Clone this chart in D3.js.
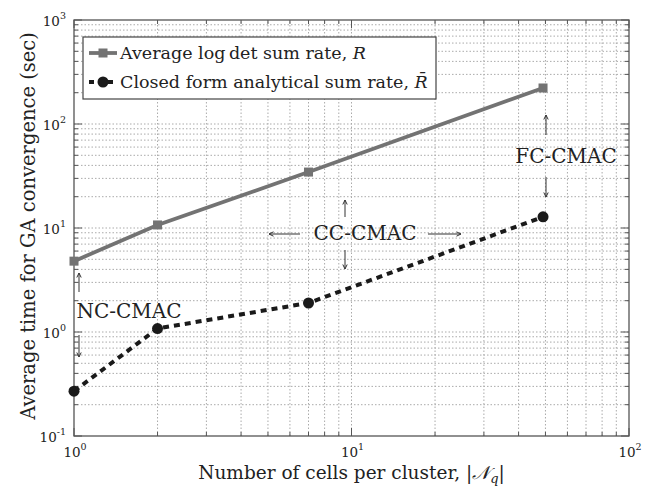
<!DOCTYPE html>
<html lang="en">
<head>
  <meta charset="UTF-8">
  <title>GA convergence time</title>
  <script src="https://d3js.org/d3.v7.min.js"></script>
  <style>
    body { margin: 0; background: #fff; }
  </style>
</head>
<body>
  <svg id="chart"></svg>

  <script>
    // Data
    const cells = [1, 2, 7, 49];
    const logdetTime = [4.8, 10.7, 34.5, 222];
    const closedTime = [0.27, 1.08, 1.9, 12.8];
    const xTickExp = [0, 1, 2];
    const yTickExp = [-1, 0, 1, 2, 3];

    const width = 654, height = 488;
    const margin = { top: 20, right: 25, bottom: 52, left: 74 };
    const FONT = "'DejaVu Serif', serif";

    const svg = d3.select("#chart")
      .attr("width", width)
      .attr("height", height)
      .attr("font-family", FONT)
      .style("font-family", FONT);

    const x = d3.scaleLog().domain([1, 100]).range([margin.left, width - margin.right]);
    const y = d3.scaleLog().domain([0.1, 1000]).range([height - margin.bottom, margin.top]);

    const x0 = x.range()[0], x1 = x.range()[1];
    const y0 = y.range()[0], y1 = y.range()[1];

    // all log ticks (major + minor)
    const xAll = [], yAll = [];
    for (let e = 0; e < 2; e++) for (let m = 1; m <= 9; m++) xAll.push(m * Math.pow(10, e));
    xAll.push(100);
    for (let e = -1; e < 3; e++) for (let m = 1; m <= 9; m++) yAll.push(m * Math.pow(10, e));
    yAll.push(1000);

    // grid
    const grid = svg.append("g")
      .attr("stroke", "#aaa")
      .attr("stroke-width", 1)
      .attr("stroke-dasharray", "1.5,2");
    grid.selectAll(".gx").data(xAll.slice(1, -1)).enter().append("line")
      .attr("x1", d => x(d)).attr("x2", d => x(d))
      .attr("y1", y0).attr("y2", y1);
    grid.selectAll(".gy").data(yAll.slice(1, -1)).enter().append("line")
      .attr("x1", x0).attr("x2", x1)
      .attr("y1", d => y(d)).attr("y2", d => y(d));

    // ticks on all four sides, pointing inward
    const isMajor = v => Math.abs(Math.log10(v) - Math.round(Math.log10(v))) < 1e-9;
    const ticks = svg.append("g").attr("stroke", "#555").attr("stroke-width", 1);
    xAll.forEach(v => {
      const len = isMajor(v) ? 8 : 4;
      ticks.append("line").attr("x1", x(v)).attr("x2", x(v)).attr("y1", y0).attr("y2", y0 - len);
      ticks.append("line").attr("x1", x(v)).attr("x2", x(v)).attr("y1", y1).attr("y2", y1 + len);
    });
    yAll.forEach(v => {
      const len = isMajor(v) ? 8 : 4;
      ticks.append("line").attr("y1", y(v)).attr("y2", y(v)).attr("x1", x0).attr("x2", x0 + len);
      ticks.append("line").attr("y1", y(v)).attr("y2", y(v)).attr("x1", x1).attr("x2", x1 - len);
    });

    // frame
    svg.append("rect")
      .attr("x", x0).attr("y", y1)
      .attr("width", x1 - x0).attr("height", y0 - y1)
      .attr("fill", "none").attr("stroke", "#555").attr("stroke-width", 1.3);

    // tick labels
    function powLabel(g, e) {
      g.append("tspan").text("10");
      g.append("tspan").attr("dy", -7).attr("font-size", 9.5).text(e);
    }
    xTickExp.forEach(e => {
      const t = svg.append("text")
        .attr("x", x(Math.pow(10, e)) + 1).attr("y", y0 + 21)
        .attr("text-anchor", "middle").attr("font-size", 13.5).attr("fill", "#222");
      powLabel(t, e);
    });
    yTickExp.forEach(e => {
      const t = svg.append("text")
        .attr("x", x0 - 8).attr("y", y(Math.pow(10, e)) + 6)
        .attr("text-anchor", "end").attr("font-size", 13.5).attr("fill", "#222");
      powLabel(t, e);
    });

    // axis titles
    const xt = svg.append("text")
      .attr("x", (x0 + x1) / 2).attr("y", 479)
      .attr("text-anchor", "middle").attr("font-size", 18.5).attr("fill", "#222");
    xt.append("tspan").text("Number of cells per cluster, |");
    xt.append("tspan").attr("font-style", "italic").text("𝒩");
    xt.append("tspan").attr("font-style", "italic").attr("font-size", 13).attr("dy", 4).text("q");
    xt.append("tspan").attr("dy", -4).text("|");

    svg.append("text")
      .attr("transform", `translate(35,${(y0 + y1) / 2 - 2}) rotate(-90)`)
      .attr("text-anchor", "middle").attr("font-size", 19.5).attr("fill", "#222")
      .text("Average time for GA convergence (sec)");

    // series
    const pts = (vals) => cells.map((c, i) => [c, vals[i]]);
    const line = d3.line().x(d => x(d[0])).y(d => y(d[1]));

    svg.append("path")
      .datum(pts(logdetTime))
      .attr("d", line)
      .attr("fill", "none").attr("stroke", "#737373").attr("stroke-width", 3.8);
    svg.selectAll(".sq").data(pts(logdetTime)).enter().append("rect")
      .attr("x", d => x(d[0]) - 4.5).attr("y", d => y(d[1]) - 4.5)
      .attr("width", 9).attr("height", 9).attr("fill", "#737373");

    svg.append("path")
      .datum(pts(closedTime))
      .attr("d", line)
      .attr("fill", "none").attr("stroke", "#1a1a1a").attr("stroke-width", 4)
      .attr("stroke-dasharray", "6,5");
    svg.selectAll(".ci").data(pts(closedTime)).enter().append("circle")
      .attr("cx", d => x(d[0])).attr("cy", d => y(d[1]))
      .attr("r", 5.5).attr("fill", "#1a1a1a");

    // legend
    const lg = svg.append("g");
    lg.append("rect")
      .attr("x", 83).attr("y", 37).attr("width", 353).attr("height", 62)
      .attr("fill", "#fff").attr("stroke", "#444").attr("stroke-width", 1.2);
    lg.append("line").attr("x1", 89).attr("x2", 117).attr("y1", 53).attr("y2", 53)
      .attr("stroke", "#737373").attr("stroke-width", 3.8);
    lg.append("rect").attr("x", 98.5).attr("y", 48.5).attr("width", 9).attr("height", 9).attr("fill", "#737373");
    lg.append("line").attr("x1", 89).attr("x2", 117).attr("y1", 82).attr("y2", 82)
      .attr("stroke", "#1a1a1a").attr("stroke-width", 4).attr("stroke-dasharray", "5,4.5");
    lg.append("circle").attr("cx", 103).attr("cy", 82).attr("r", 5.5).attr("fill", "#1a1a1a");

    const t1 = lg.append("text").attr("x", 120).attr("y", 59).attr("font-size", 17.5).attr("fill", "#222");
    t1.append("tspan").text("Average log\u2009det sum rate, ");
    t1.append("tspan").attr("font-style", "italic").text("R");
    const t2 = lg.append("text").attr("x", 120).attr("y", 88).attr("font-size", 17.5).attr("fill", "#222");
    t2.append("tspan").text("Closed form analytical sum rate, ");
    t2.append("tspan").attr("font-style", "italic").text("R\u0304");

    // annotations
    const ann = svg.append("g");
    function arrow(xa, ya, xb, yb) {
      ann.append("line").attr("x1", xa).attr("y1", ya).attr("x2", xb).attr("y2", yb)
        .attr("stroke", "#333").attr("stroke-width", 1);
      const ang = Math.atan2(yb - ya, xb - xa);
      const hl = 5, hw = 0.45;
      ann.append("path")
        .attr("d", `M${xb - hl * Math.cos(ang - hw)},${yb - hl * Math.sin(ang - hw)} L${xb},${yb} L${xb - hl * Math.cos(ang + hw)},${yb - hl * Math.sin(ang + hw)}`)
        .attr("fill", "none").attr("stroke", "#333").attr("stroke-width", 1);
    }
    function label(txt, cx, cy) {
      ann.append("text").attr("x", cx).attr("y", cy + 7)
        .attr("text-anchor", "middle").attr("font-size", 20).attr("fill", "#222").text(txt);
    }

    label("NC-CMAC", 129, 311);
    arrow(79, 292, 79, 273);
    arrow(79, 335, 79, 357);

    label("CC-CMAC", 365, 233);
    arrow(300, 234, 269, 234);
    arrow(428, 234, 461, 234);
    arrow(345, 217, 345, 200);
    arrow(345, 250, 345, 269);

    label("FC-CMAC", 566, 156);
    arrow(546, 135, 546, 115);
    arrow(546, 177, 546, 197);
  </script>
</body>
</html>
